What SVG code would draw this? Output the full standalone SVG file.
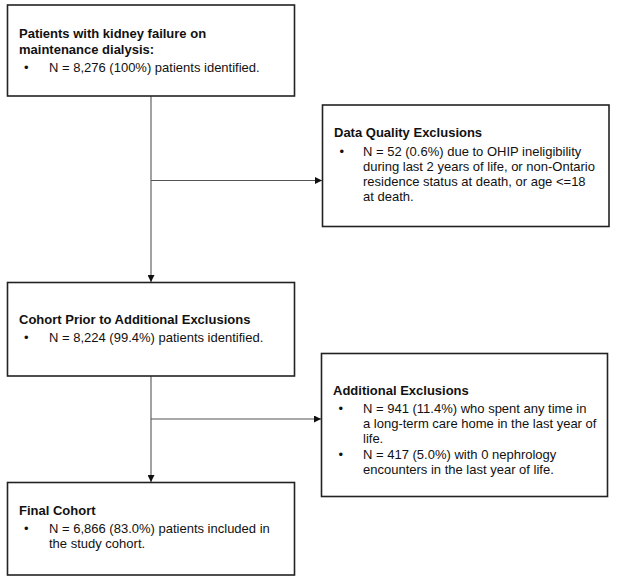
<svg xmlns="http://www.w3.org/2000/svg" width="617" height="580" viewBox="0 0 617 580">
<defs>
<style>
.box{fill:#fff;stroke:#222;stroke-width:1.6}
.t{font-family:"Liberation Sans",Arial,sans-serif;font-size:13px;fill:#111}
.b{font-weight:bold}
.c{fill:none;stroke:#555;stroke-width:1.1}
</style>
<marker id="ah" viewBox="0 0 10 10" refX="10" refY="5" markerWidth="7" markerHeight="7" markerUnits="userSpaceOnUse" orient="auto">
<path d="M0,0 L10,5 L0,10 z" fill="#111"/>
</marker>
</defs>
<rect width="617" height="580" fill="#fff"/>
<g id="connectors">
<path class="c" d="M151,96 V282" marker-end="url(#ah)"/>
<path class="c" d="M151,180.5 H322" marker-end="url(#ah)"/>
<path class="c" d="M151,376 V482" marker-end="url(#ah)"/>
<path class="c" d="M151,419 H321" marker-end="url(#ah)"/>
</g>
<g id="n1">
<rect class="box" x="7.5" y="5" width="287" height="91"/>
<text class="t b" x="19" y="38">Patients with kidney failure on</text>
<text class="t b" x="19" y="54">maintenance dialysis:</text>
<text class="t" x="24" y="71.5">•</text>
<text class="t" x="49" y="71.5">N = 8,276 (100%) patients identified.</text>
</g>
<g id="n2">
<rect class="box" x="322.5" y="105" width="286.5" height="121.5"/>
<text class="t b" x="334" y="136.5">Data Quality Exclusions</text>
<text class="t" x="339.5" y="155.5">•</text>
<text class="t" x="363" y="155.5">N = 52 (0.6%) due to OHIP ineligibility</text>
<text class="t" x="363" y="170.7">during last 2 years of life, or non-Ontario</text>
<text class="t" x="363" y="186">residence status at death, or age &lt;=18</text>
<text class="t" x="363" y="201">at death.</text>
</g>
<g id="n3">
<rect class="box" x="7.5" y="282.5" width="287" height="93.5"/>
<text class="t b" x="19" y="324.3">Cohort Prior to Additional Exclusions</text>
<text class="t" x="24" y="342.3">•</text>
<text class="t" x="49" y="342.3">N = 8,224 (99.4%) patients identified.</text>
</g>
<g id="n4">
<rect class="box" x="321.5" y="353.5" width="286" height="143"/>
<text class="t b" x="333" y="395">Additional Exclusions</text>
<text class="t" x="338.5" y="412.7">•</text>
<text class="t" x="363" y="412.7">N = 941 (11.4%) who spent any time in</text>
<text class="t" x="363" y="427.7">a long-term care home in the last year of</text>
<text class="t" x="363" y="442.7">life.</text>
<text class="t" x="338.5" y="459.3">•</text>
<text class="t" x="363" y="459.3">N = 417 (5.0%) with 0 nephrology</text>
<text class="t" x="363" y="474.3">encounters in the last year of life.</text>
</g>
<g id="n5">
<rect class="box" x="7.5" y="482.5" width="287" height="92.5"/>
<text class="t b" x="19" y="515">Final Cohort</text>
<text class="t" x="24" y="532.7">•</text>
<text class="t" x="49" y="532.7">N = 6,866 (83.0%) patients included in</text>
<text class="t" x="49" y="548.3">the study cohort.</text>
</g>
</svg>
